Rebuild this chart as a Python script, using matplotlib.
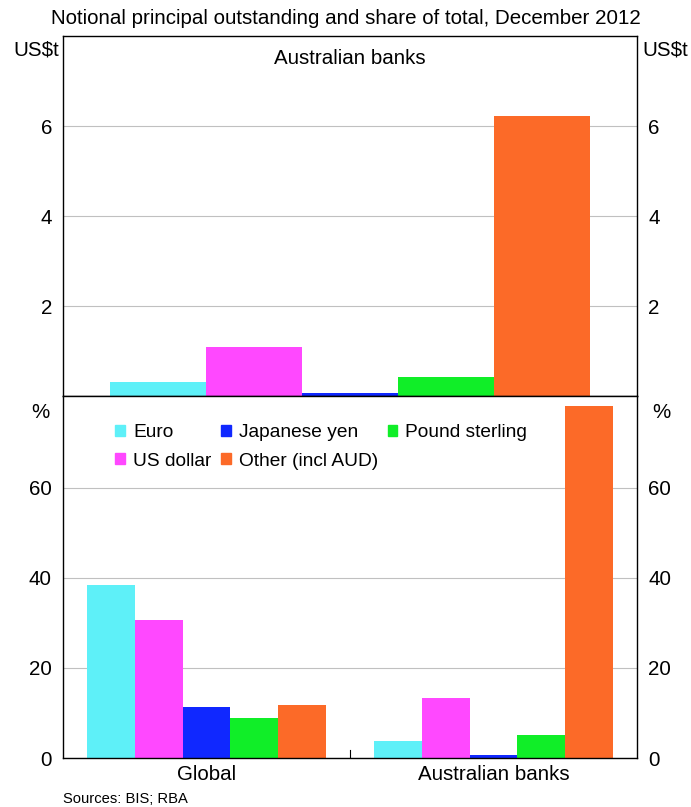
import matplotlib
matplotlib.use("Agg")
from matplotlib import pyplot as plt
from matplotlib.patches import Patch
import numpy as np

plt.rcParams['font.family'] = ['Liberation Sans', 'DejaVu Sans']

currencies = ["Euro", "US dollar", "Japanese yen", "Pound sterling", "Other (incl AUD)"]
colours = ["#5ef0f8", "#ff48ff", "#1028ff", "#10ee28", "#fc6a28"]

# top panel: Australian banks, US$ trillion
aus_value = [0.31, 1.09, 0.06, 0.42, 6.22]

# bottom panel: share of total, per cent
groups = ["Global", "Australian banks"]
share_global = [38.4, 30.7, 11.3, 8.9, 11.8]
share_aus = [3.8, 13.3, 0.7, 5.1, 78.2]

FS = 14.8

fig = plt.figure(figsize=(6.91, 8.07), dpi=100)
L, R = 63 / 691, 637 / 691
ax1 = fig.add_axes([L, 1 - 396 / 807, R - L, 360 / 807])
ax2 = fig.add_axes([L, 1 - 758 / 807, R - L, 362 / 807])

w = 0.167
offs = (np.arange(5) - 2) * w

# top panel
for i in range(5):
    ax1.bar(offs[i], aus_value[i], w, color=colours[i], zorder=2)
ax1.set_xlim(-0.5, 0.5)
ax1.set_ylim(0, 8)
ax1.set_xticks([])
ax1.set_yticks([2, 4, 6])
ax1.text(0.5, 0.965, "Australian banks", transform=ax1.transAxes,
         ha="center", va="top", fontsize=FS)

# bottom panel
x = np.arange(2)
for i in range(5):
    ax2.bar(x + offs[i], [share_global[i], share_aus[i]], w,
            color=colours[i], zorder=2)
ax2.set_xlim(-0.5, 1.5)
ax2.set_ylim(0, 80.4)
ax2.set_yticks([0, 20, 40, 60])
ax2.set_xticks(x)
ax2.set_xticklabels(groups, fontsize=FS)
ax2.tick_params(axis="x", length=0, pad=5)
ax2.plot([0.5, 0.5], [0, 1.8], color="black", lw=0.8, zorder=3)

for ax in (ax1, ax2):
    ax.yaxis.grid(True, color="#c0c0c0", lw=0.8, zorder=0)
    ax.tick_params(axis="y", length=0, labelsize=FS, pad=8,
                   left=True, right=True, labelleft=True, labelright=True)
    for s in ax.spines.values():
        s.set_linewidth(1.0)

handles = [Patch(color=c, label=n) for c, n in zip(colours, currencies)]
# column-wise fill: Euro/US dollar, Japanese yen/Other, Pound sterling
order = [0, 1, 2, 4, 3]
ax2.legend([handles[k] for k in order], [currencies[k] for k in order],
           ncol=3, loc="upper left", bbox_to_anchor=(0.068, 0.959),
           frameon=False, fontsize=13.8, handlelength=0.5, handleheight=0.5,
           handletextpad=0.42, columnspacing=0.5, labelspacing=0.6,
           borderpad=0.2)

fig.text(L - 0.006, 1 - 50 / 807, "US$t", ha="right", va="center", fontsize=FS)
fig.text(R + 0.008, 1 - 50 / 807, "US$t", ha="left", va="center", fontsize=FS)
fig.text(50 / 691, 1 - 412 / 807, "%", ha="right", va="center", fontsize=FS)
fig.text(652 / 691, 1 - 412 / 807, "%", ha="left", va="center", fontsize=FS)

fig.text(0.5, 1 - 19 / 807,
         "Notional principal outstanding and share of total, December 2012",
         ha="center", va="center", fontsize=FS)
fig.text(L, 1 - 799 / 807, "Sources: BIS; RBA", ha="left", va="center", fontsize=10.6)

fig.savefig("out.png", dpi=100)
